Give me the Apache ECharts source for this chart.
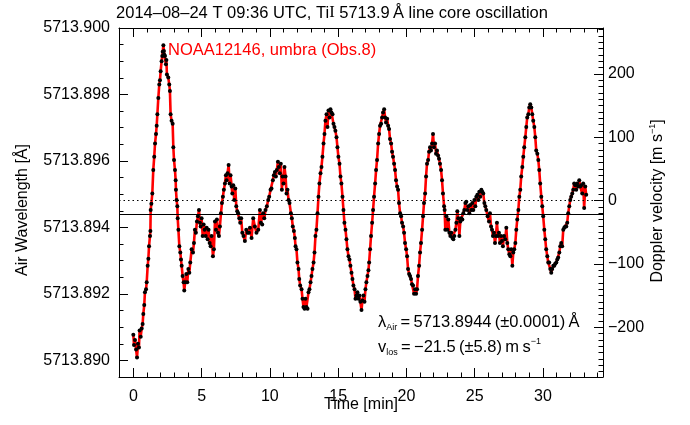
<!DOCTYPE html>
<html>
<head>
<meta charset="utf-8">
<script src="https://cdn.jsdelivr.net/npm/echarts@6/dist/echarts.min.js"></script>
<style>
html, body { margin: 0; padding: 0; background: #fff; }
#oscillation { width: 690px; height: 425px; }
</style>
</head>
<body>
<div id="oscillation"></div>
<script>
// measured line-core positions: [time (min), Doppler velocity (m/s)]
var samples = [
  [0.00,-212],[0.05,-228],[0.12,-220],[0.20,-235],[0.27,-248],[0.34,-226],[0.41,-232],[0.46,-205],
  [0.54,-215],[0.61,-202],[0.68,-195],[0.73,-179],[0.80,-165],[0.85,-145],[0.93,-140],[0.98,-129],
  [1.05,-103],[1.10,-92],[1.15,-72],[1.22,-56],[1.25,-48],[1.27,-15],[1.32,-5],[1.39,11],
  [1.46,48],[1.53,69],[1.59,90],[1.66,105],[1.71,118],[1.76,136],[1.83,162],[1.90,183],
  [1.95,190],[2.00,204],[2.07,220],[2.12,228],[2.15,235],[2.20,245],[2.24,236],[2.27,230],
  [2.32,228],[2.39,215],[2.42,222],[2.46,199],[2.56,194],[2.63,183],[2.68,173],[2.73,136],
  [2.80,126],[2.88,121],[2.93,84],[2.98,64],[3.05,48],[3.10,32],[3.12,17],[3.17,1],
  [3.22,-9],[3.25,-28],[3.30,-46],[3.37,-72],[3.44,-82],[3.49,-93],[3.54,-103],[3.61,-119],
  [3.68,-129],[3.73,-142],[3.80,-129],[3.88,-116],[3.95,-129],[4.03,-108],[4.10,-114],[4.17,-98],
  [4.27,-77],[4.37,-82],[4.44,-67],[4.51,-46],[4.58,-51],[4.66,-33],[4.73,-25],[4.81,-15],
  [4.88,-35],[4.93,-41],[5.00,-28],[5.08,-56],[5.15,-38],[5.22,-46],[5.30,-56],[5.37,-43],
  [5.44,-61],[5.51,-46],[5.59,-67],[5.66,-72],[5.73,-56],[5.83,-88],[5.90,-77],[5.98,-33],
  [6.05,-46],[6.12,-30],[6.20,-51],[6.27,-56],[6.34,-41],[6.42,-20],[6.49,-4],[6.56,6],
  [6.63,17],[6.71,27],[6.78,40],[6.83,32],[6.90,43],[6.98,56],[7.05,27],[7.12,40],
  [7.20,22],[7.25,11],[7.32,24],[7.39,1],[7.47,19],[7.54,-9],[7.61,-17],[7.68,-20],
  [7.76,-28],[7.83,-35],[7.90,-28],[7.98,-51],[8.07,-56],[8.17,-64],[8.27,-46],[8.37,-51],
  [8.47,-51],[8.54,-43],[8.66,-59],[8.78,-28],[8.90,-41],[9.02,-51],[9.15,-46],[9.27,-15],
  [9.34,-35],[9.44,-38],[9.51,-20],[9.59,-28],[9.68,-15],[9.78,-9],[9.88,1],[9.95,6],
  [10.05,17],[10.12,19],[10.22,32],[10.29,40],[10.37,45],[10.44,38],[10.51,48],[10.59,61],
  [10.66,53],[10.73,43],[10.80,58],[10.88,17],[10.93,38],[11.00,27],[11.07,53],[11.15,38],
  [11.22,11],[11.29,17],[11.37,1],[11.44,-4],[11.54,-20],[11.61,-28],[11.68,-41],[11.76,-48],
  [11.83,-59],[11.88,-72],[11.95,-77],[12.02,-98],[12.10,-108],[12.15,-124],[12.22,-134],[12.32,-140],
  [12.39,-155],[12.46,-168],[12.54,-171],[12.61,-155],[12.68,-168],[12.76,-171],[12.83,-145],[12.90,-140],
  [12.98,-129],[13.05,-119],[13.12,-108],[13.20,-98],[13.27,-82],[13.34,-56],[13.41,-46],[13.49,-20],
  [13.56,6],[13.63,27],[13.71,43],[13.78,53],[13.85,69],[13.93,90],[14.00,105],[14.07,126],
  [14.15,136],[14.22,116],[14.29,142],[14.37,131],[14.44,144],[14.51,139],[14.59,136],[14.66,121],
  [14.73,116],[14.80,110],[14.88,100],[14.95,84],[15.02,69],[15.10,58],[15.17,38],[15.24,27],
  [15.32,6],[15.39,-15],[15.46,-35],[15.54,-46],[15.61,-61],[15.68,-77],[15.76,-88],[15.83,-93],
  [15.90,-103],[15.98,-114],[16.05,-124],[16.12,-134],[16.20,-140],[16.27,-155],[16.34,-150],[16.41,-145],
  [16.49,-155],[16.56,-150],[16.63,-160],[16.71,-173],[16.78,-158],[16.85,-150],[16.93,-160],[17.00,-140],
  [17.07,-129],[17.15,-119],[17.22,-110],[17.27,-98],[17.34,-77],[17.41,-56],[17.49,-35],[17.56,-15],
  [17.63,6],[17.71,27],[17.78,48],[17.85,64],[17.93,90],[18.00,105],[18.07,118],[18.15,121],
  [18.22,131],[18.29,139],[18.37,144],[18.44,131],[18.51,123],[18.59,129],[18.66,118],[18.73,113],
  [18.80,97],[18.88,90],[18.95,77],[19.02,69],[19.10,58],[19.17,48],[19.24,32],[19.32,22],
  [19.39,17],[19.46,-4],[19.54,-20],[19.61,-25],[19.68,-35],[19.76,-41],[19.83,-51],[19.90,-67],
  [19.98,-77],[20.05,-88],[20.12,-108],[20.20,-116],[20.27,-119],[20.34,-124],[20.41,-132],[20.49,-134],
  [20.56,-147],[20.63,-140],[20.71,-147],[20.78,-140],[20.85,-119],[20.93,-103],[21.00,-82],[21.07,-67],
  [21.15,-46],[21.22,-25],[21.29,-4],[21.37,11],[21.44,38],[21.51,58],[21.59,64],[21.66,77],
  [21.73,84],[21.80,79],[21.88,90],[21.95,105],[22.02,84],[22.10,90],[22.17,74],[22.24,79],
  [22.32,71],[22.39,66],[22.46,58],[22.54,48],[22.61,32],[22.68,11],[22.76,-9],[22.80,-15],
  [22.85,-46],[22.93,-25],[23.00,-46],[23.07,-30],[23.15,-51],[23.22,-56],[23.29,-51],[23.37,-59],
  [23.44,-61],[23.51,-56],[23.59,-46],[23.66,-35],[23.73,-17],[23.80,-28],[23.88,-56],[23.95,-33],
  [24.02,-28],[24.10,-30],[24.17,-20],[24.24,-15],[24.32,-4],[24.39,-2],[24.46,-15],[24.54,-9],
  [24.61,-20],[24.68,-7],[24.76,-15],[24.83,-4],[24.90,-15],[24.98,1],[25.05,-9],[25.12,6],
  [25.20,9],[25.27,1],[25.34,14],[25.41,6],[25.49,17],[25.56,14],[25.63,11],[25.71,-4],
  [25.78,-9],[25.85,-15],[25.95,-25],[26.05,-33],[26.12,-20],[26.20,-41],[26.27,-46],[26.34,-56],
  [26.41,-51],[26.49,-67],[26.56,-56],[26.63,-35],[26.71,-56],[26.78,-51],[26.85,-67],[26.93,-56],
  [27.00,-64],[27.07,-72],[27.15,-56],[27.24,-61],[27.32,-43],[27.39,-67],[27.46,-77],[27.54,-85],
  [27.61,-88],[27.68,-77],[27.76,-103],[27.83,-82],[27.90,-77],[27.98,-67],[28.05,-46],[28.12,-30],
  [28.20,-15],[28.27,6],[28.34,17],[28.41,38],[28.49,53],[28.56,69],[28.63,84],[28.71,100],
  [28.78,116],[28.85,131],[28.93,136],[29.00,147],[29.07,152],[29.15,147],[29.22,136],[29.29,126],
  [29.37,116],[29.44,100],[29.51,79],[29.59,74],[29.66,64],[29.73,48],[29.80,27],[29.88,6],
  [29.95,-9],[30.02,-25],[30.10,-46],[30.17,-61],[30.24,-77],[30.32,-88],[30.39,-98],[30.46,-98],
  [30.54,-108],[30.61,-114],[30.68,-108],[30.76,-103],[30.83,-103],[30.90,-100],[30.98,-98],[31.05,-93],
  [31.12,-90],[31.20,-82],[31.27,-72],[31.34,-67],[31.41,-72],[31.49,-46],[31.56,-43],[31.63,-41],
  [31.71,-41],[31.78,-35],[31.85,-20],[31.93,-9],[32.00,1],[32.07,6],[32.15,11],[32.22,17],
  [32.29,27],[32.37,24],[32.44,17],[32.51,27],[32.59,22],[32.66,32],[32.73,22],[32.80,24],
  [32.88,11],[32.95,27],[33.02,-12],[33.10,22],[33.17,9]
]

// tick labels
var timeTicks = [0, 5, 10, 15, 20, 25, 30]
var waveTicks = [5713.890, 5713.892, 5713.894, 5713.896, 5713.898, 5713.900]
var velTicks = [-200, -100, 0, 100, 200]

// fit results
var lambdaMean = 5713.8944
var vLos = -21.5

var C_LIGHT = 299792458
var lambdaRest = lambdaMean / (1 + vLos / C_LIGHT)

var timeRange = [-1.05, 34.4]
var waveRange = [5713.8895, 5713.9000]
// right axis is the same scale, expressed as Doppler velocity
var velRange = waveRange.map(function (w) { return C_LIGHT * (w / lambdaRest - 1) })

function steps(from, to, step) {
  var out = []
  for (var k = Math.ceil(from / step - 1e-6); k * step <= to + 1e-9; k++) {
    out.push(+(k * step).toFixed(6))
  }
  return out
}

var FONT = 'Liberation Sans, Arial, Helvetica, sans-serif'
var labelStyle = {color: '#000', fontFamily: FONT, fontSize: 16}

function minus(v) {
  return v < 0 ? '\u2212' + Math.abs(v) : String(v)
}

// extra axis that only carries the short (minor) ticks
function minorAxis(position, range, values) {
  return {
    type: 'value', position: position, min: range[0], max: range[1],
    splitLine: {show: false},
    axisLine: {show: false, onZero: false},
    axisLabel: {show: false},
    axisTick: {show: true, inside: true, length: 4.5, customValues: values, lineStyle: {color: '#000', width: 1}}
  }
}

function majorAxis(position, range, values, label) {
  return {
    type: 'value', position: position, min: range[0], max: range[1],
    splitLine: {show: false},
    axisLine: {show: true, onZero: false, lineStyle: {color: '#000', width: 1}},
    axisTick: {show: true, inside: true, length: 9, customValues: values, lineStyle: {color: '#000', width: 1}},
    axisLabel: label ? Object.assign({customValues: values}, labelStyle, label) : {show: false}
  }
}

var chart = echarts.init(document.getElementById('oscillation'), null, {renderer: 'canvas'})

var option = {
  animation: false,
  backgroundColor: '#fff',
  grid: {left: 119, right: 87, top: 28, bottom: 48},
  xAxis: [
    majorAxis('bottom', timeRange, timeTicks, {margin: 12}),
    minorAxis('bottom', timeRange, steps(-1, 34, 1)),
    majorAxis('top', timeRange, timeTicks, null),
    minorAxis('top', timeRange, steps(-1, 34, 1))
  ],
  yAxis: [
    majorAxis('left', waveRange, waveTicks, {margin: 9, formatter: function (v) { return v.toFixed(3) }}),
    minorAxis('left', waveRange, steps(waveRange[0], waveRange[1], 0.0005)),
    majorAxis('right', velRange, velTicks, {margin: 5, formatter: minus}),
    minorAxis('right', velRange, steps(velRange[0], velRange[1], 10))
  ],
  series: [
    {
      name: 'line core',
      type: 'line',
      xAxisIndex: 0,
      yAxisIndex: 2,
      data: samples,
      symbol: 'circle',
      symbolSize: 4,
      itemStyle: {color: '#000', borderWidth: 0},
      lineStyle: {color: '#ff0000', width: 2.6},
      emphasis: {disabled: true},
      z: 3,
      markLine: {
        silent: true,
        symbol: 'none',
        label: {show: false},
        data: [
          {yAxis: vLos, lineStyle: {type: 'solid', color: '#000', width: 1.2}},
          {yAxis: 0, lineStyle: {type: [1.5, 3], color: '#000', width: 1}}
        ]
      }
    }
  ],
  graphic: [
    {
      type: 'text', x: 332, y: 13,
      style: {
        text: '2014\u201308\u201324 T 09:36 UTC, Ti{r|I} 5713.9\u2009\u00c5 line core oscillation',
        font: '16.5px ' + FONT, fill: '#000', align: 'center', verticalAlign: 'middle',
        rich: {r: {fontFamily: 'Liberation Serif, serif', fontSize: 16.5, fill: '#000'}}
      }
    },
    {
      type: 'text', x: 168, y: 50,
      style: {text: 'NOAA12146, umbra (Obs.8)', font: '16.5px ' + FONT, fill: '#ff0000',
        align: 'left', verticalAlign: 'middle'}
    },
    {
      type: 'text', x: 378, y: 322,
      style: {
        text: '{m|\u03bb}{s|Air}{m|\u2009=\u20095713.8944\u2009(\u00b10.0001)\u2009\u00c5}',
        align: 'left', verticalAlign: 'middle',
        rich: {
          m: {fontFamily: FONT, fontSize: 16.5, lineHeight: 20, fill: '#000', verticalAlign: 'middle'},
          s: {fontFamily: FONT, fontSize: 9, lineHeight: 9, fill: '#000', verticalAlign: 'bottom'}
        }
      }
    },
    {
      type: 'text', x: 378, y: 347,
      style: {
        text: '{m|v}{s|los}{m|\u2009=\u2009\u221221.5\u2009(\u00b15.8)\u2009m\u2009s}{p|\u22121}',
        align: 'left', verticalAlign: 'middle',
        rich: {
          m: {fontFamily: FONT, fontSize: 16.5, lineHeight: 20, fill: '#000', verticalAlign: 'middle'},
          s: {fontFamily: FONT, fontSize: 9, lineHeight: 9, fill: '#000', verticalAlign: 'bottom'},
          p: {fontFamily: FONT, fontSize: 9, lineHeight: 10, fill: '#000', verticalAlign: 'top'}
        }
      }
    },
    {
      type: 'text', x: 23, y: 210, rotation: Math.PI / 2,
      style: {text: 'Air Wavelength [\u00c5]', font: '16px ' + FONT, fill: '#000',
        align: 'center', verticalAlign: 'middle'}
    },
    {
      type: 'text', x: 658, y: 201, rotation: Math.PI / 2,
      style: {
        text: '{m|Doppler velocity [m s}{p|\u22121}{m|]}',
        align: 'center', verticalAlign: 'middle',
        rich: {
          m: {fontFamily: FONT, fontSize: 16, lineHeight: 20, fill: '#000', verticalAlign: 'middle'},
          p: {fontFamily: FONT, fontSize: 9, lineHeight: 10, fill: '#000', verticalAlign: 'top'}
        }
      }
    },
    {
      type: 'text', x: 361, y: 405,
      style: {text: 'Time [min]', font: '16px ' + FONT, fill: '#000', align: 'center', verticalAlign: 'middle'}
    }
  ]
}

chart.setOption(option)
</script>
</body>
</html>
